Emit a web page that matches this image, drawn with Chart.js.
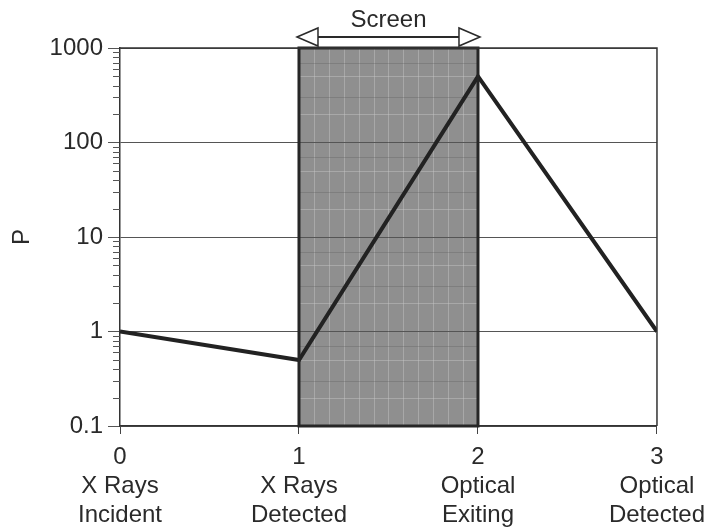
<!DOCTYPE html>
<html lang="en">
<head>
    <meta charset="UTF-8">
    <title>P through the screen</title>
    <script src="https://cdn.jsdelivr.net/npm/chart.js"></script>
    <style>
        html, body { margin: 0; padding: 0; background: #fff; }
        #wrap { width: 714px; height: 529px; }
    </style>
</head>
<body>
    <div id="wrap"><canvas id="chart"></canvas></div>

    <script>
        // data
        const stages = [0, 1, 2, 3];
        const stageNames = [['X Rays', 'Incident'], ['X Rays', 'Detected'], ['Optical', 'Exiting'], ['Optical', 'Detected']];
        const pValues = [1, 0.5, 500, 1];
        const yTicks = [0.1, 1, 10, 100, 1000];
        const screenRange = [1, 2];
        const screenLabel = 'Screen';

        const FONT = '"Liberation Sans", Arial, Helvetica, sans-serif';
        const INK = '#2a2a2a';

        // gray shaded screen region, drawn before grid lines
        const screenPlugin = {
            id: 'screen',
            beforeDraw(chart) {
                const ctx = chart.ctx;
                const x = chart.scales.x, y = chart.scales.y;
                const a = chart.chartArea;
                const x1 = x.getPixelForValue(screenRange[0]);
                const x2 = x.getPixelForValue(screenRange[1]);
                ctx.save();
                ctx.fillStyle = '#8f8f8f';
                ctx.fillRect(x1, a.top, x2 - x1, a.bottom - a.top);
                // faint grid inside the shade
                ctx.strokeStyle = 'rgba(200,200,200,0.45)';
                ctx.lineWidth = 1;
                const cols = 12;
                for (let i = 1; i < cols; i++) {
                    const px = Math.round(x1 + (x2 - x1) * i / cols) + 0.5;
                    ctx.beginPath(); ctx.moveTo(px, a.top); ctx.lineTo(px, a.bottom); ctx.stroke();
                }
                for (let d = 0; d < yTicks.length - 1; d++) {
                    [2, 5].forEach(m => {
                        const py = Math.round(y.getPixelForValue(yTicks[d] * m)) + 0.5;
                        ctx.beginPath(); ctx.moveTo(x1, py); ctx.lineTo(x2, py); ctx.stroke();
                    });
                }
                ctx.strokeStyle = 'rgba(90,90,90,0.3)';
                for (let d = 0; d < yTicks.length - 1; d++) {
                    [3, 7].forEach(m => {
                        const py = Math.round(y.getPixelForValue(yTicks[d] * m)) + 0.5;
                        ctx.beginPath(); ctx.moveTo(x1, py); ctx.lineTo(x2, py); ctx.stroke();
                    });
                }
                ctx.restore();
            },
            afterDatasetsDraw(chart) {
                const ctx = chart.ctx;
                const x = chart.scales.x, y = chart.scales.y;
                const a = chart.chartArea;
                const x1 = x.getPixelForValue(screenRange[0]);
                const x2 = x.getPixelForValue(screenRange[1]);
                ctx.save();
                // screen box outline
                ctx.strokeStyle = '#262626';
                ctx.lineWidth = 3;
                ctx.strokeRect(x1, a.top, x2 - x1, a.bottom - a.top);
                // frame top + right
                ctx.lineWidth = 1.5;
                ctx.strokeStyle = '#333';
                ctx.beginPath();
                ctx.moveTo(a.left, a.top); ctx.lineTo(a.right, a.top); ctx.lineTo(a.right, a.bottom);
                ctx.stroke();
                // minor log ticks on the y axis
                ctx.lineWidth = 1;
                ctx.strokeStyle = '#555';
                for (let d = 0; d < yTicks.length - 1; d++) {
                    for (let m = 2; m <= 9; m++) {
                        const py = Math.round(y.getPixelForValue(yTicks[d] * m)) + 0.5;
                        ctx.beginPath(); ctx.moveTo(a.left - 7, py); ctx.lineTo(a.left, py); ctx.stroke();
                    }
                }
                // double arrow + label above the screen
                const ay = a.top - 11;
                const head = 19, half = 9;
                ctx.strokeStyle = INK;
                ctx.lineWidth = 2;
                ctx.beginPath(); ctx.moveTo(x1 + head, ay); ctx.lineTo(x2 - head, ay); ctx.stroke();
                ctx.fillStyle = '#fff';
                ctx.lineWidth = 1.5;
                ctx.beginPath();
                ctx.moveTo(x1 - 2, ay); ctx.lineTo(x1 + head, ay - half); ctx.lineTo(x1 + head, ay + half); ctx.closePath();
                ctx.fill(); ctx.stroke();
                ctx.beginPath();
                ctx.moveTo(x2 + 2, ay); ctx.lineTo(x2 - head, ay - half); ctx.lineTo(x2 - head, ay + half); ctx.closePath();
                ctx.fill(); ctx.stroke();
                ctx.fillStyle = INK;
                ctx.font = '24px ' + FONT;
                ctx.textAlign = 'center';
                ctx.textBaseline = 'middle';
                ctx.fillText(screenLabel, (x1 + x2) / 2, a.top - 28);
                ctx.restore();
            }
        };

        const ctx = document.getElementById('chart').getContext('2d');
        new Chart(ctx, {
            type: 'line',
            data: {
                datasets: [{
                    data: stages.map((s, i) => ({ x: s, y: pValues[i] })),
                    borderColor: '#222',
                    borderWidth: 4,
                    pointRadius: 0,
                    tension: 0,
                    fill: false
                }]
            },
            options: {
                responsive: true,
                maintainAspectRatio: false,
                animation: false,
                layout: { padding: { top: 48, right: 57, left: 0, bottom: 0 } },
                plugins: {
                    legend: { display: false },
                    tooltip: { enabled: false }
                },
                scales: {
                    x: {
                        type: 'linear',
                        min: 0,
                        max: 3,
                        afterFit(scale) { scale.height = 103; },
                        afterBuildTicks(scale) { scale.ticks = stages.map(v => ({ value: v })); },
                        grid: { drawOnChartArea: false, tickLength: 8, color: '#444', lineWidth: 1 },
                        border: { display: true, color: '#333', width: 1.5 },
                        ticks: {
                            maxRotation: 0,
                            padding: 9,
                            color: INK,
                            font: { family: FONT, size: 24, lineHeight: 1.2 },
                            callback: (v) => [String(v)].concat(stageNames[v] || [])
                        }
                    },
                    y: {
                        type: 'logarithmic',
                        min: 0.1,
                        max: 1000,
                        afterFit(scale) { scale.width = 120; },
                        afterBuildTicks(scale) { scale.ticks = yTicks.map(v => ({ value: v })); },
                        grid: { color: '#555', lineWidth: 1, tickLength: 12 },
                        border: { display: true, color: '#333', width: 1.5 },
                        ticks: {
                            padding: 5,
                            color: INK,
                            font: { family: FONT, size: 24 },
                            callback: (v) => String(v)
                        },
                        title: {
                            display: true,
                            text: 'P',
                            color: INK,
                            font: { family: FONT, size: 24 },
                            padding: { top: 8, bottom: 0 }
                        }
                    }
                }
            },
            plugins: [screenPlugin]
        });
    </script>
</body>
</html>
